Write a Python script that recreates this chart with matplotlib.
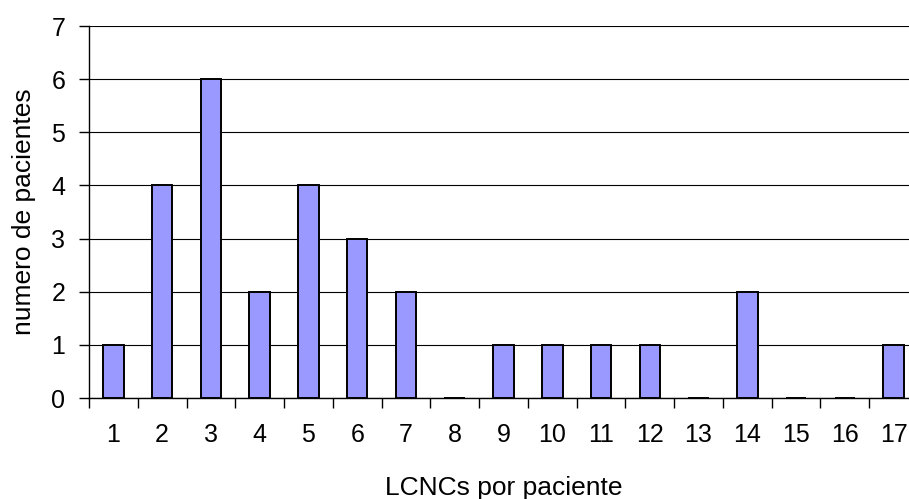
import matplotlib
matplotlib.use("Agg")
import matplotlib.pyplot as plt
import numpy as np

# Patients per number of LCNCs
lcnc_counts = [str(i) for i in range(1, 18)]
patients = [1, 4, 6, 2, 4, 3, 2, 0, 1, 1, 1, 1, 0, 2, 0, 0, 1]

plt.rcParams['font.family'] = ['Liberation Sans', 'DejaVu Sans']

fig = plt.figure(figsize=(9.09, 4.99), dpi=100)
ax = fig.add_axes([89 / 909, 1 - 398 / 499, (918 - 89) / 909, (398 - 26) / 499])

x = np.arange(len(lcnc_counts))
ax.bar(x, patients, width=0.42, color='#9999FF', edgecolor='black', linewidth=1.4, zorder=3)

ax.set_xlim(-0.5, len(lcnc_counts) - 0.5)
ax.set_ylim(0, 7)
ax.set_yticks(range(0, 8))
ax.yaxis.grid(True, color='black', linewidth=0.8, zorder=0)

# category labels centred, tick marks between categories
ax.set_xticks(x)
ax.set_xticklabels(lcnc_counts)
ax.set_xticks(np.arange(-0.5, len(lcnc_counts), 1), minor=True)
ax.tick_params(axis='x', which='major', length=0, pad=18, labelsize=18)
ax.tick_params(axis='x', which='minor', length=7, width=1, direction='out', color='black')
ax.tick_params(axis='y', length=7, width=1, direction='out', pad=10, labelsize=18)

for side in ['top', 'right']:
    ax.spines[side].set_visible(False)
for side in ['left', 'bottom']:
    ax.spines[side].set_color('black')
    ax.spines[side].set_linewidth(1)

ax.set_xlabel('LCNCs por paciente', fontsize=19, labelpad=21)
ax.set_ylabel('numero de pacientes', fontsize=19, labelpad=11)

fig.savefig('out.png', dpi=100)
